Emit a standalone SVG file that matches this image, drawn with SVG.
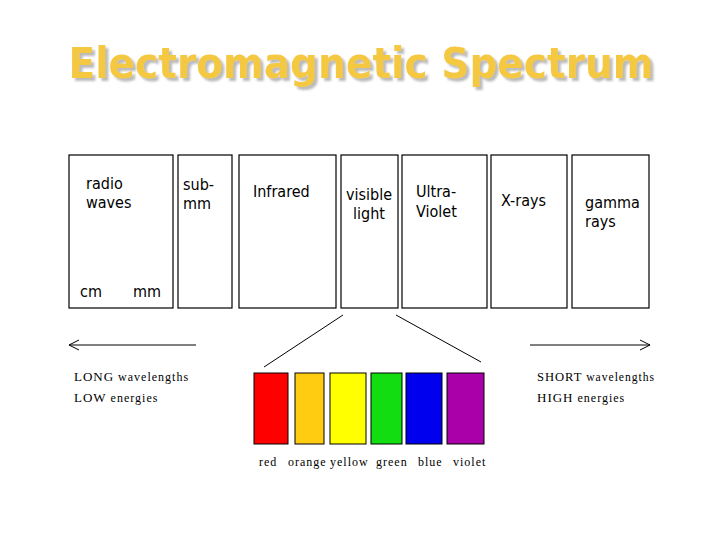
<svg xmlns="http://www.w3.org/2000/svg" width="720" height="540" viewBox="0 0 720 540">
<style>
.b{fill:#fff;stroke:#000;stroke-width:1.2}
.t{font-family:"DejaVu Sans Condensed","DejaVu Sans",sans-serif;font-size:16px;fill:#000}
.s{font-family:"Liberation Serif",serif;font-size:12px;fill:#000;letter-spacing:1px}
.c{stroke:#000;stroke-width:1}
.ttl{font-family:"Comic Sans MS","DejaVu Sans",sans-serif;font-size:42px;font-weight:bold}
</style>
<defs>
<marker id="a" markerWidth="12" markerHeight="12" refX="11" refY="6" orient="auto" markerUnits="userSpaceOnUse"><path d="M1,1 L11,6 L1,11" fill="none" stroke="#000"/></marker>
<filter id="sh" x="-5%" y="-20%" width="110%" height="150%"><feDropShadow dx="3" dy="3" stdDeviation="0.8" flood-color="#bbb"/></filter>
</defs>
<rect width="720" height="540" fill="#fff"/>
<text class="ttl" x="361" y="78" text-anchor="middle" fill="#f5c842" filter="url(#sh)" textLength="585" lengthAdjust="spacingAndGlyphs">Electromagnetic Spectrum</text>
<g id="radio"><rect class="b" x="69" y="155" width="104" height="153"/><text class="t" x="86" y="189">radio</text><text class="t" x="86" y="208">waves</text><text class="t" x="80" y="297">cm</text><text class="t" x="133" y="297">mm</text></g>
<g id="submm"><rect class="b" x="178" y="155" width="54" height="153"/><text class="t" x="183" y="190">sub-</text><text class="t" x="183" y="209">mm</text></g>
<g id="infrared"><rect class="b" x="239" y="155" width="97" height="153"/><text class="t" x="253" y="197">Infrared</text></g>
<g id="visible"><rect class="b" x="341" y="155" width="57" height="153"/><text class="t" x="369" y="200" text-anchor="middle">visible</text><text class="t" x="369" y="219" text-anchor="middle">light</text></g>
<g id="uv"><rect class="b" x="402" y="155" width="85" height="153"/><text class="t" x="416" y="197">Ultra-</text><text class="t" x="416" y="217">Violet</text></g>
<g id="xrays"><rect class="b" x="491" y="155" width="76" height="153"/><text class="t" x="501" y="206">X-rays</text></g>
<g id="gamma"><rect class="b" x="572" y="155" width="77" height="153"/><text class="t" x="585" y="208">gamma</text><text class="t" x="585" y="227">rays</text></g>
<g id="connectors">
<line class="c" x1="264" y1="367" x2="343" y2="315"/>
<line class="c" x1="396" y1="315" x2="481" y2="362"/>
<line class="c" x1="196" y1="345" x2="69" y2="345" marker-end="url(#a)"/>
<line class="c" x1="530" y1="345" x2="650" y2="345" marker-end="url(#a)"/>
</g>
<g id="long"><text class="s" x="74" y="381"><tspan font-size="13">LONG</tspan> wavelengths</text><text class="s" x="74" y="402"><tspan font-size="13">LOW</tspan> energies</text></g>
<g id="short"><text class="s" x="537" y="381" textLength="118" lengthAdjust="spacingAndGlyphs"><tspan font-size="13">SHORT</tspan> wavelengths</text><text class="s" x="537" y="402"><tspan font-size="13">HIGH</tspan> energies</text></g>
<g id="colors" stroke="#000" stroke-width="1">
<rect x="254" y="373" width="34" height="71" fill="#f00"/>
<rect x="295" y="373" width="29" height="71" fill="#fc1"/>
<rect x="330" y="373" width="36" height="71" fill="#ff0"/>
<rect x="371" y="373" width="31" height="71" fill="#1d1"/>
<rect x="406" y="373" width="36" height="71" fill="#00e"/>
<rect x="447" y="373" width="37" height="71" fill="#a0a"/>
</g>
<g id="colorlabels">
<text class="s" x="259" y="466">red</text>
<text class="s" x="288" y="466">orange</text>
<text class="s" x="330" y="466">yellow</text>
<text class="s" x="376" y="466">green</text>
<text class="s" x="418" y="466">blue</text>
<text class="s" x="453" y="466">violet</text>
</g>
</svg>
